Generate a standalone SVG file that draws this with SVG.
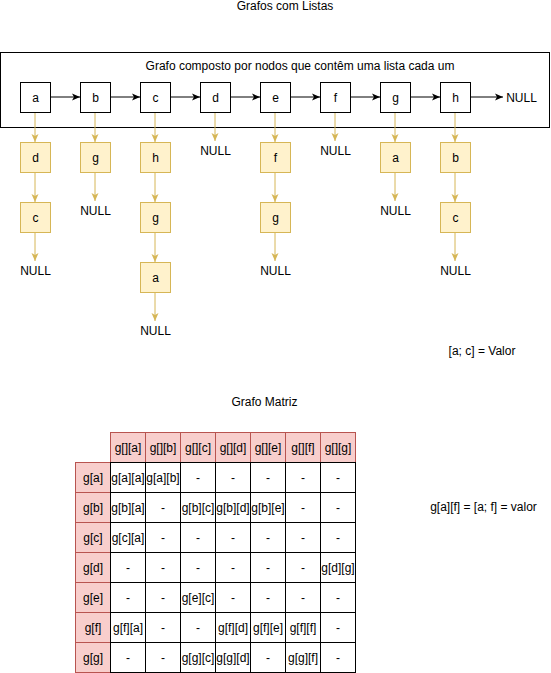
<svg xmlns="http://www.w3.org/2000/svg" width="551" height="673" viewBox="0 0 551 673">
<style>
text{font-family:"Liberation Sans",Arial,sans-serif;font-size:12px;fill:#000;text-anchor:middle}
.n{fill:#fff;stroke:#000;stroke-width:1}
.y{fill:#fff2cc;stroke:#d6b656;stroke-width:1}
.k{stroke:#000;stroke-width:1;fill:none;marker-end:url(#ak)}
.ky{stroke:#d6b656;stroke-width:1;fill:none;marker-end:url(#ay)}
.h{fill:#f8cecc;stroke:#b85450;stroke-width:1}
.c{fill:#fff;stroke:#000;stroke-width:1}
</style>
<defs>
<marker id="ak" markerUnits="userSpaceOnUse" markerWidth="9" markerHeight="8" refX="8" refY="3.5" orient="auto" overflow="visible"><path d="M0,0 L8,3.5 L0,7 L2,3.5 Z" fill="#000"/></marker>
<marker id="ay" markerUnits="userSpaceOnUse" markerWidth="9" markerHeight="8" refX="8" refY="3.5" orient="auto" overflow="visible"><path d="M0,0 L8,3.5 L0,7 L2,3.5 Z" fill="#d6b656"/></marker>
</defs>
<rect width="551" height="673" fill="#fff"/>
<text x="285" y="10">Grafos com Listas</text>
<g id="container">
<rect x="0.5" y="52.5" width="549" height="75" fill="none" stroke="#000"/>
<text x="300" y="70">Grafo composto por nodos que contêm uma lista cada um</text>
</g>
<g id="connectors">
<line class="k" x1="50" y1="97" x2="80" y2="97"/>
<line class="k" x1="110" y1="97" x2="140" y2="97"/>
<line class="k" x1="170" y1="97" x2="200" y2="97"/>
<line class="k" x1="230" y1="97" x2="260" y2="97"/>
<line class="k" x1="290" y1="97" x2="320" y2="97"/>
<line class="k" x1="350" y1="97" x2="380" y2="97"/>
<line class="k" x1="410" y1="97" x2="440" y2="97"/>
<line class="k" x1="470" y1="97" x2="503" y2="97"/>
<line class="ky" x1="35" y1="112" x2="35" y2="142"/>
<line class="ky" x1="35" y1="172" x2="35" y2="202"/>
<line class="ky" x1="35" y1="232" x2="35" y2="261"/>
<line class="ky" x1="95" y1="112" x2="95" y2="142"/>
<line class="ky" x1="95" y1="172" x2="95" y2="201"/>
<line class="ky" x1="155" y1="112" x2="155" y2="142"/>
<line class="ky" x1="155" y1="172" x2="155" y2="202"/>
<line class="ky" x1="155" y1="232" x2="155" y2="262"/>
<line class="ky" x1="155" y1="292" x2="155" y2="321"/>
<line class="ky" x1="215" y1="112" x2="215" y2="141"/>
<line class="ky" x1="275" y1="112" x2="275" y2="142"/>
<line class="ky" x1="275" y1="172" x2="275" y2="202"/>
<line class="ky" x1="275" y1="232" x2="275" y2="261"/>
<line class="ky" x1="335" y1="112" x2="335" y2="141"/>
<line class="ky" x1="395" y1="112" x2="395" y2="142"/>
<line class="ky" x1="395" y1="172" x2="395" y2="201"/>
<line class="ky" x1="455" y1="112" x2="455" y2="142"/>
<line class="ky" x1="455" y1="172" x2="455" y2="202"/>
<line class="ky" x1="455" y1="232" x2="455" y2="261"/>
</g>
<g id="node-a"><rect class="n" x="20.5" y="82.5" width="30" height="30"/><text x="35.5" y="101.5">a</text></g>
<g id="node-b"><rect class="n" x="80.5" y="82.5" width="30" height="30"/><text x="95.5" y="101.5">b</text></g>
<g id="node-c"><rect class="n" x="140.5" y="82.5" width="30" height="30"/><text x="155.5" y="101.5">c</text></g>
<g id="node-d"><rect class="n" x="200.5" y="82.5" width="30" height="30"/><text x="215.5" y="101.5">d</text></g>
<g id="node-e"><rect class="n" x="260.5" y="82.5" width="30" height="30"/><text x="275.5" y="101.5">e</text></g>
<g id="node-f"><rect class="n" x="320.5" y="82.5" width="30" height="30"/><text x="335.5" y="101.5">f</text></g>
<g id="node-g"><rect class="n" x="380.5" y="82.5" width="30" height="30"/><text x="395.5" y="101.5">g</text></g>
<g id="node-h"><rect class="n" x="440.5" y="82.5" width="30" height="30"/><text x="455.5" y="101.5">h</text></g>
<g id="null-h"><text x="521.5" y="101.5">NULL</text></g>
<g id="a-d"><rect class="y" x="20.5" y="142.5" width="30" height="30"/><text x="35.5" y="161.5">d</text></g>
<g id="a-c"><rect class="y" x="20.5" y="202.5" width="30" height="30"/><text x="35.5" y="221.5">c</text></g>
<g id="a-null"><text x="35.5" y="274.5">NULL</text></g>
<g id="b-g"><rect class="y" x="80.5" y="142.5" width="30" height="30"/><text x="95.5" y="161.5">g</text></g>
<g id="b-null"><text x="95.5" y="214.5">NULL</text></g>
<g id="c-h"><rect class="y" x="140.5" y="142.5" width="30" height="30"/><text x="155.5" y="161.5">h</text></g>
<g id="c-g"><rect class="y" x="140.5" y="202.5" width="30" height="30"/><text x="155.5" y="221.5">g</text></g>
<g id="c-a"><rect class="y" x="140.5" y="262.5" width="30" height="30"/><text x="155.5" y="281.5">a</text></g>
<g id="c-null"><text x="155.5" y="334.5">NULL</text></g>
<g id="d-null"><text x="215.5" y="154.5">NULL</text></g>
<g id="e-f"><rect class="y" x="260.5" y="142.5" width="30" height="30"/><text x="275.5" y="161.5">f</text></g>
<g id="e-g"><rect class="y" x="260.5" y="202.5" width="30" height="30"/><text x="275.5" y="221.5">g</text></g>
<g id="e-null"><text x="275.5" y="274.5">NULL</text></g>
<g id="f-null"><text x="335.5" y="154.5">NULL</text></g>
<g id="g-a"><rect class="y" x="380.5" y="142.5" width="30" height="30"/><text x="395.5" y="161.5">a</text></g>
<g id="g-null"><text x="395.5" y="214.5">NULL</text></g>
<g id="h-b"><rect class="y" x="440.5" y="142.5" width="30" height="30"/><text x="455.5" y="161.5">b</text></g>
<g id="h-c"><rect class="y" x="440.5" y="202.5" width="30" height="30"/><text x="455.5" y="221.5">c</text></g>
<g id="h-null"><text x="455.5" y="274.5">NULL</text></g>
<text x="482" y="355">[a; c] = Valor</text>
<text x="264.5" y="405.5">Grafo Matriz</text>
<g id="matrix">
<g id="col-headers">
<rect class="h" x="110.5" y="432.5" width="35" height="30"/><text x="128" y="451.5">g[][a]</text>
<rect class="h" x="145.5" y="432.5" width="35" height="30"/><text x="163" y="451.5">g[][b]</text>
<rect class="h" x="180.5" y="432.5" width="35" height="30"/><text x="198" y="451.5">g[][c]</text>
<rect class="h" x="215.5" y="432.5" width="35" height="30"/><text x="233" y="451.5">g[][d]</text>
<rect class="h" x="250.5" y="432.5" width="35" height="30"/><text x="268" y="451.5">g[][e]</text>
<rect class="h" x="285.5" y="432.5" width="35" height="30"/><text x="303" y="451.5">g[][f]</text>
<rect class="h" x="320.5" y="432.5" width="35" height="30"/><text x="338" y="451.5">g[][g]</text>
</g>
<g id="row-headers">
<rect class="h" x="75.5" y="462.5" width="35" height="30"/><text x="93" y="481.5">g[a]</text>
<rect class="h" x="75.5" y="492.5" width="35" height="30"/><text x="93" y="511.5">g[b]</text>
<rect class="h" x="75.5" y="522.5" width="35" height="30"/><text x="93" y="541.5">g[c]</text>
<rect class="h" x="75.5" y="552.5" width="35" height="30"/><text x="93" y="571.5">g[d]</text>
<rect class="h" x="75.5" y="582.5" width="35" height="30"/><text x="93" y="601.5">g[e]</text>
<rect class="h" x="75.5" y="612.5" width="35" height="30"/><text x="93" y="631.5">g[f]</text>
<rect class="h" x="75.5" y="642.5" width="35" height="30"/><text x="93" y="661.5">g[g]</text>
</g>
<g id="cells">
<rect class="c" x="110.5" y="462.5" width="245" height="210"/>
<path d="M145.5,462.5V672.5M180.5,462.5V672.5M215.5,462.5V672.5M250.5,462.5V672.5M285.5,462.5V672.5M320.5,462.5V672.5M110.5,492.5H355.5M110.5,522.5H355.5M110.5,552.5H355.5M110.5,582.5H355.5M110.5,612.5H355.5M110.5,642.5H355.5" stroke="#000" fill="none"/>
<text x="128" y="481.5">g[a][a]</text><text x="163" y="481.5">g[a][b]</text><text x="198" y="481.5">-</text><text x="233" y="481.5">-</text><text x="268" y="481.5">-</text><text x="303" y="481.5">-</text><text x="338" y="481.5">-</text>
<text x="128" y="511.5">g[b][a]</text><text x="163" y="511.5">-</text><text x="198" y="511.5">g[b][c]</text><text x="233" y="511.5">g[b][d]</text><text x="268" y="511.5">g[b][e]</text><text x="303" y="511.5">-</text><text x="338" y="511.5">-</text>
<text x="128" y="541.5">g[c][a]</text><text x="163" y="541.5">-</text><text x="198" y="541.5">-</text><text x="233" y="541.5">-</text><text x="268" y="541.5">-</text><text x="303" y="541.5">-</text><text x="338" y="541.5">-</text>
<text x="128" y="571.5">-</text><text x="163" y="571.5">-</text><text x="198" y="571.5">-</text><text x="233" y="571.5">-</text><text x="268" y="571.5">-</text><text x="303" y="571.5">-</text><text x="338" y="571.5">g[d][g]</text>
<text x="128" y="601.5">-</text><text x="163" y="601.5">-</text><text x="198" y="601.5">g[e][c]</text><text x="233" y="601.5">-</text><text x="268" y="601.5">-</text><text x="303" y="601.5">-</text><text x="338" y="601.5">-</text>
<text x="128" y="631.5">g[f][a]</text><text x="163" y="631.5">-</text><text x="198" y="631.5">-</text><text x="233" y="631.5">g[f][d]</text><text x="268" y="631.5">g[f][e]</text><text x="303" y="631.5">g[f][f]</text><text x="338" y="631.5">-</text>
<text x="128" y="661.5">-</text><text x="163" y="661.5">-</text><text x="198" y="661.5">g[g][c]</text><text x="233" y="661.5">g[g][d]</text><text x="268" y="661.5">-</text><text x="303" y="661.5">g[g][f]</text><text x="338" y="661.5">-</text>
</g>
</g>
<text x="483.5" y="510.5">g[a][f] = [a; f] = valor</text>
</svg>
